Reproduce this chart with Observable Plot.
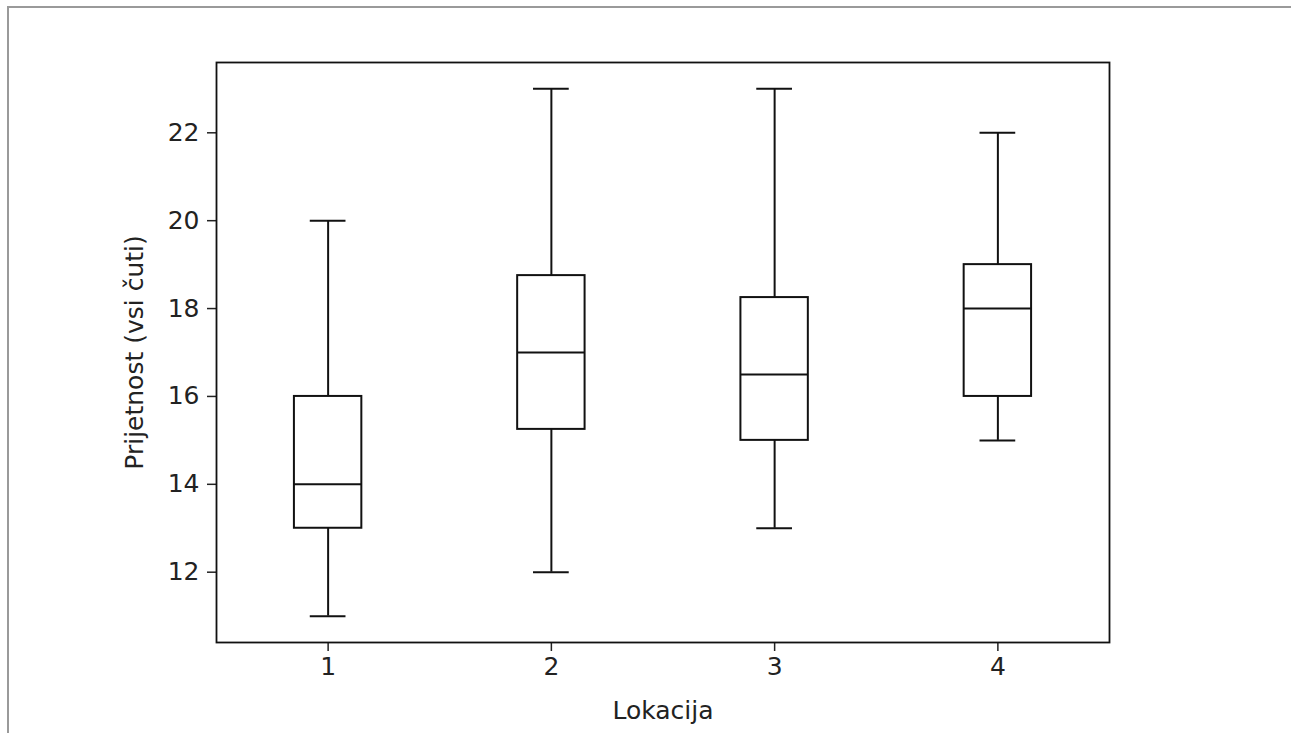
<!DOCTYPE html>
<html>
<head>
<meta charset="utf-8">
<script src="https://cdn.jsdelivr.net/npm/d3@7"></script>
<script src="https://cdn.jsdelivr.net/npm/@observablehq/plot@0.6"></script>
<style>
  html, body { margin: 0; padding: 0; background: #fff; }
  #wrap { position: relative; width: 1291px; height: 733px; overflow: hidden; }
  #border { position: absolute; left: 7px; top: 6px; right: -10px; bottom: -10px;
            border-top: 2px solid #9a9a9a; border-left: 2px solid #9a9a9a; }
  #chart { position: absolute; left: 0; top: 0; }
</style>
</head>
<body>
<div id="wrap"><div id="border"></div><div id="chart"></div></div>
<script>
const locations   = [1, 2, 3, 4];
const whiskerLow  = [11, 12, 13, 15];
const q1          = [13, 15.25, 15, 16];
const median      = [14, 17, 16.5, 18];
const q3          = [16, 18.75, 18.25, 19];
const whiskerHigh = [20, 23, 23, 22];
const yTicks = [12, 14, 16, 18, 20, 22];
const xLabel = "Lokacija";
const yLabel = "Prijetnost (vsi čuti)";

const rows = locations.map((loc, i) => ({
  loc, lo: whiskerLow[i], q1: q1[i], med: median[i], q3: q3[i], hi: whiskerHigh[i]
}));

const boxHalf = 0.151, capHalf = 0.08;
const ink = "#111";

const chart = Plot.plot({
  width: 1291,
  height: 733,
  marginLeft: 216,
  marginRight: 182,
  marginTop: 62,
  marginBottom: 91,
  style: { fontFamily: "DejaVu Sans", fontSize: "25px", color: "#222", background: "transparent" },
  x: { domain: [0.5, 4.5], ticks: locations, tickFormat: d => String(d), label: xLabel,
       labelAnchor: "center", labelArrow: "none" },
  y: { domain: [10.4, 23.6], ticks: yTicks, label: yLabel, labelAnchor: "center", labelArrow: "none" },
  marks: [
    Plot.axisX({ ticks: locations, tickFormat: d => String(d), tickSize: 9, tickPadding: 6,
                 label: xLabel, labelAnchor: "center", labelOffset: 76, labelArrow: "none",
                 strokeWidth: 1.5 }),
    Plot.axisY({ ticks: yTicks, tickSize: 9, tickPadding: 8, label: yLabel, labelAnchor: "center",
                 labelOffset: 91, labelArrow: "none", strokeWidth: 1.5, fontSize: 25 }),
    // whiskers
    Plot.ruleX(rows, { x: "loc", y1: "lo", y2: "q1", stroke: ink, strokeWidth: 2 }),
    Plot.ruleX(rows, { x: "loc", y1: "q3", y2: "hi", stroke: ink, strokeWidth: 2 }),
    // caps
    Plot.ruleY(rows, { y: "lo", x1: d => d.loc - capHalf, x2: d => d.loc + capHalf, stroke: ink, strokeWidth: 2 }),
    Plot.ruleY(rows, { y: "hi", x1: d => d.loc - capHalf, x2: d => d.loc + capHalf, stroke: ink, strokeWidth: 2 }),
    // boxes
    Plot.rect(rows, { x1: d => d.loc - boxHalf, x2: d => d.loc + boxHalf, y1: "q1", y2: "q3",
                      fill: "none", stroke: ink, strokeWidth: 2 }),
    // medians
    Plot.ruleY(rows, { y: "med", x1: d => d.loc - boxHalf, x2: d => d.loc + boxHalf, stroke: ink, strokeWidth: 2 }),
    Plot.frame({ stroke: ink, strokeWidth: 1.8 })
  ]
});
document.getElementById("chart").appendChild(chart);
</script>
</body>
</html>
